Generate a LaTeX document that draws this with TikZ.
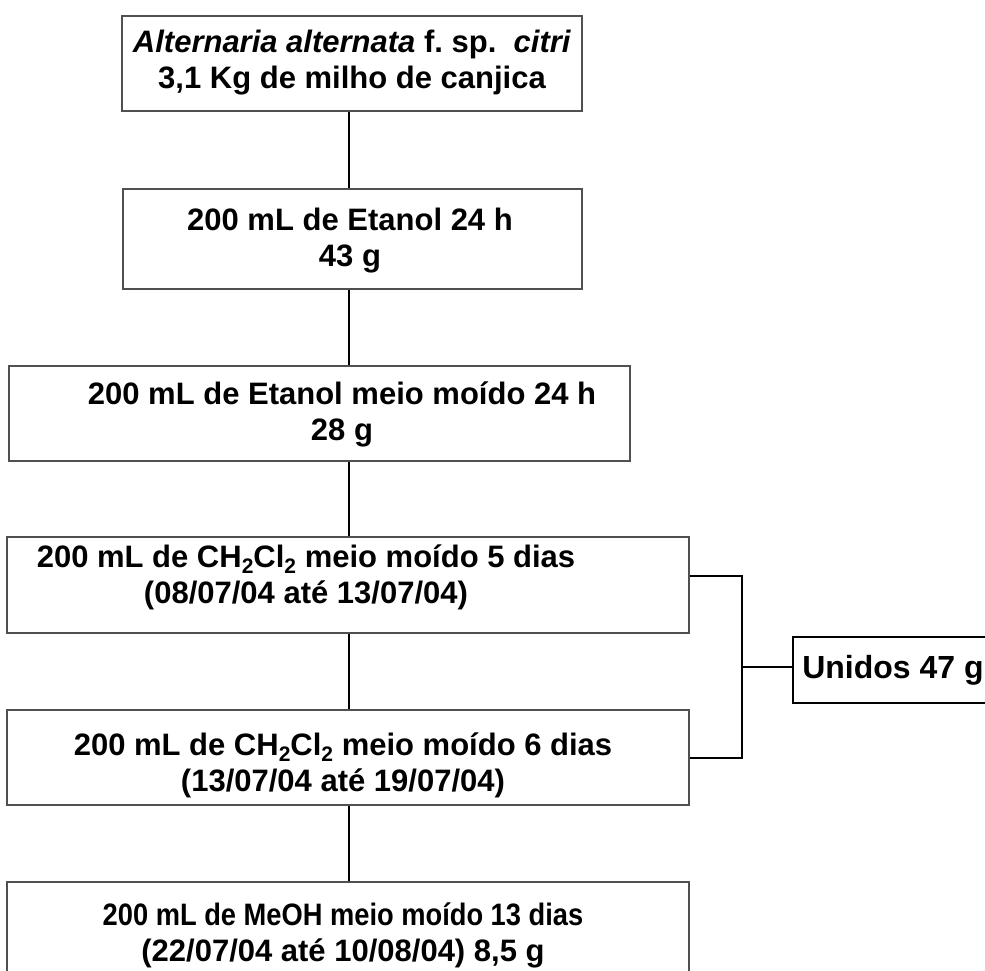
\documentclass[tikz,border=0pt]{standalone}
\usepackage{graphicx}
\usepackage{fontspec}
\setmainfont{Liberation Sans}
\definecolor{boxgray}{RGB}{80,80,80}
\newcommand{\subtwo}{\raisebox{-6pt}{\fontsize{21}{21}\selectfont 2}}
\begin{document}
\begin{tikzpicture}[x=1pt,y=-1pt,
  box/.style={draw=boxgray, line width=1.3pt, inner sep=0pt},
  lbl/.style={font=\bfseries\fontsize{31}{36}\selectfont, align=center, inner sep=0pt},
  conn/.style={draw=black, line width=2pt}]
\useasboundingbox (0,0) rectangle (985,970);
\clip (0,0) rectangle (985,970);
% boxes
\node[box, minimum width=460, minimum height=95] (b1) at (352,63.5) {};
\node[box, minimum width=459, minimum height=100] (b2) at (352.5,239) {};
\node[box, minimum width=621, minimum height=95] (b3) at (319.5,413.5) {};
\node[box, minimum width=682, minimum height=96] (b4) at (348,585) {};
\node[box, minimum width=682, minimum height=95] (b5) at (348,757.5) {};
\node[box, minimum width=682, minimum height=98] (b6) at (348,931) {};
\node[draw=black, line width=2pt, inner sep=0pt, minimum width=207, minimum height=66] (u) at (896.5,670) {};
% texts
\node[lbl] (t1) at (352,63) {\textit{Alternaria alternata} f.~sp.\ \ \textit{citri}\\3,1 Kg de milho de canjica};
\node[lbl] (t2) at (350,241) {200 mL de Etanol 24 h\\43 g};
\node[lbl] (t3) at (342,414) {200 mL de Etanol meio moído 24 h\\28 g};
\node[lbl] (t4) at (306,577) {200 mL de CH\subtwo Cl\subtwo{} meio moído 5 dias\\(08/07/04 até 13/07/04)};
\node[lbl] (t5) at (343,765) {200 mL de CH\subtwo Cl\subtwo{} meio moído 6 dias\\(13/07/04 até 19/07/04)};
\node[lbl] (t6) at (343,935) {\scalebox{0.88}[1]{200 mL de MeOH meio moído 13 dias}\\(22/07/04 até 10/08/04) 8,5 g};
\node[lbl, font=\bfseries\fontsize{32}{36}\selectfont] (tu) at (893,670) {Unidos 47 g};
% connectors
\coordinate (cx) at (349,0);
\draw[conn] (b1.south -| cx) -- (b2.north -| cx);
\draw[conn] (b2.south -| cx) -- (b3.north -| cx);
\draw[conn] (b3.south -| cx) -- (b4.north -| cx);
\draw[conn] (b4.south -| cx) -- (b5.north -| cx);
\draw[conn] (b5.south -| cx) -- (b6.north -| cx);
\coordinate (bj) at (742,667);
\draw[conn] ([yshift=9pt]b4.east) -| (bj) |- (b5.east);
\draw[conn] (bj) -- (bj -| u.west);
\end{tikzpicture}
\end{document}
